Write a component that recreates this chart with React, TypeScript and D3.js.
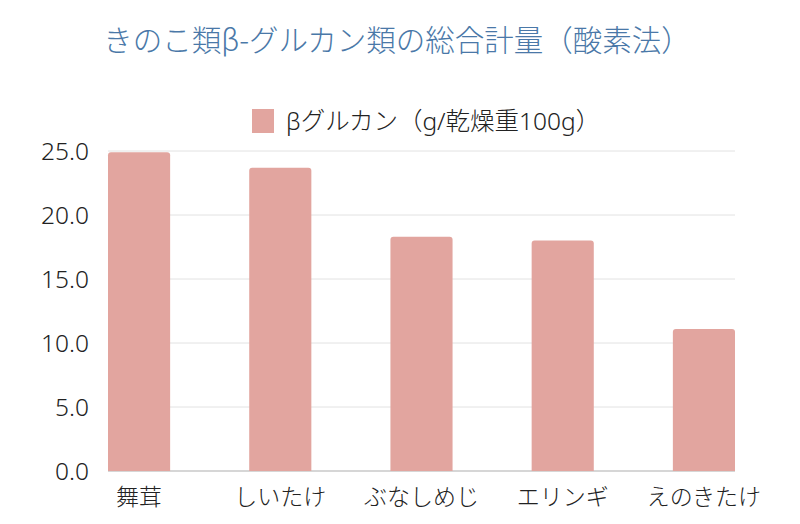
import React, { useEffect, useRef } from "react";
import * as d3 from "d3";

const categories = ["舞茸", "しいたけ", "ぶなしめじ", "エリンギ", "えのきたけ"];
const glucanValues = [24.9, 23.7, 18.3, 18.0, 11.1];
const yTicks = [0, 5, 10, 15, 20, 25];

const titleText = "きのこ類β-グルカン類の総合計量（酸素法）";
const legendText = "βグルカン（g/乾燥重100g）";

const W = 800;
const H = 524;
const FONT = "'Noto Sans CJK JP', 'Noto Sans', sans-serif";
const FONT_LATIN = "'Noto Sans', 'Noto Sans CJK JP', sans-serif";

export default function App() {
  const ref = useRef<SVGSVGElement>(null);

  useEffect(() => {
    const svg = d3.select(ref.current);
    svg.selectAll("*").remove();

    const x = d3.scaleBand().domain(categories).range([108, 735]).paddingInner(0.56).paddingOuter(0);
    const y = d3.scaleLinear().domain([0, 25]).range([471, 151]);

    svg.append("rect").attr("width", W).attr("height", H).attr("fill", "#fff");

    // title
    svg.append("text")
      .attr("x", 397)
      .attr("y", 51)
      .attr("text-anchor", "middle")
      .style("font-family", FONT)
      .style("font-size", "29.5px")
      .style("font-weight", 300)
      .attr("fill", "#4a78a8")
      .text(titleText);

    // legend
    svg.append("rect")
      .attr("x", 252).attr("y", 109)
      .attr("width", 22).attr("height", 24)
      .attr("fill", "#e2a59f");
    svg.append("text")
      .attr("x", 286)
      .attr("y", 130)
      .style("font-family", FONT_LATIN)
      .style("font-size", "24.5px")
      .style("font-weight", 300)
      .attr("fill", "#222")
      .text(legendText);

    // grid
    svg.append("g")
      .selectAll("line")
      .data(yTicks)
      .enter().append("line")
      .attr("x1", 108).attr("x2", 735)
      .attr("y1", d => y(d)).attr("y2", d => y(d))
      .attr("stroke", d => (d === 0 ? "#d6d6d6" : "#e2e2e2"))
      .attr("stroke-width", d => (d === 0 ? 2 : 1));

    // y labels
    svg.append("g")
      .selectAll("text")
      .data(yTicks)
      .enter().append("text")
      .attr("x", 89)
      .attr("y", d => y(d))
      .attr("dy", "0.36em")
      .attr("text-anchor", "end")
      .style("font-family", FONT_LATIN)
      .style("font-size", "24.5px")
      .style("font-weight", 300)
      .attr("fill", "#222")
      .text(d => d.toFixed(1));

    // bars with slightly rounded tops
    const r = 3;
    svg.append("g")
      .selectAll("path")
      .data(categories)
      .enter().append("path")
      .attr("fill", "#e2a59f")
      .attr("d", (c, i) => {
        const x0 = x(c)!;
        const w = x.bandwidth();
        const top = y(glucanValues[i]);
        const bot = y(0);
        return `M${x0},${bot}V${top + r}Q${x0},${top} ${x0 + r},${top}H${x0 + w - r}Q${x0 + w},${top} ${x0 + w},${top + r}V${bot}Z`;
      });

    // x labels
    svg.append("g")
      .selectAll("text")
      .data(categories)
      .enter().append("text")
      .attr("x", c => x(c)! + x.bandwidth() / 2)
      .attr("y", 505)
      .attr("text-anchor", "middle")
      .style("font-family", FONT)
      .style("font-size", "23px")
      .style("font-weight", 300)
      .attr("fill", "#222")
      .text(c => c);
  }, []);

  return (
    <div style={{ position: "absolute", left: 0, top: 0 }}>
      <svg ref={ref} width={W} height={H} />
    </div>
  );
}
